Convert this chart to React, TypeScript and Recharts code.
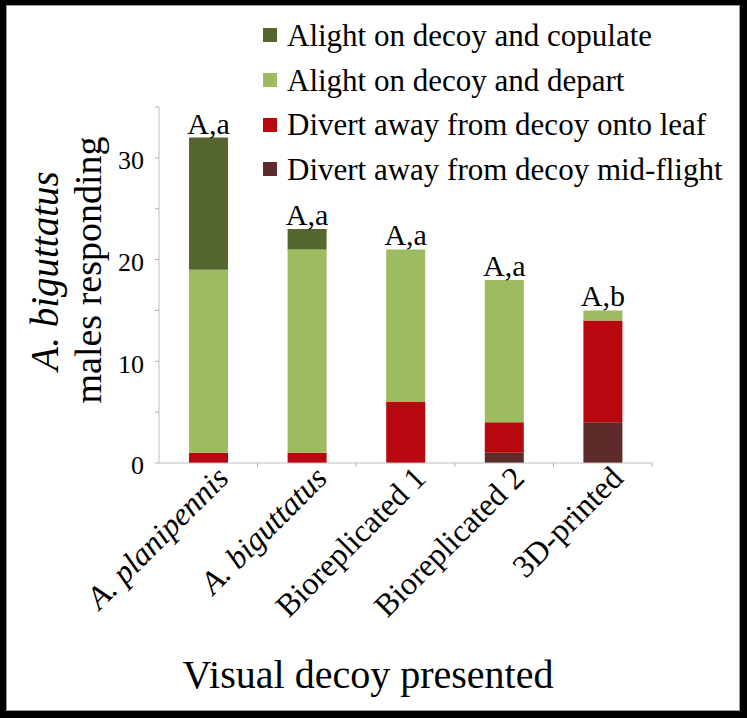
import React from 'react';
import { BarChart, Bar, XAxis, YAxis, Legend, LabelList, Label } from 'recharts';

const categories = ['A. planipennis', 'A. biguttatus', 'Bioreplicated 1', 'Bioreplicated 2', '3D-printed'];
const italicCategories = ['A. planipennis', 'A. biguttatus'];
const midFlight = [0, 0, 0, 1, 4];
const ontoLeaf = [1, 1, 6, 3, 10];
const depart = [18, 20, 15, 14, 1];
const copulate = [13, 2, 0, 0, 0];
const letters = ['A,a', 'A,a', 'A,a', 'A,a', 'A,b'];
const yTicks = [0, 5, 10, 15, 20, 25, 30, 35];
const yLabels = [0, 10, 20, 30];

// stack order, bottom to top
const series = [
    { key: 'midFlight', name: 'Divert away from decoy mid-flight', color: '#5e2a2a' },
    { key: 'ontoLeaf', name: 'Divert away from decoy onto leaf', color: '#b8070f' },
    { key: 'depart', name: 'Alight on decoy and depart', color: '#9dbb5f' },
    { key: 'copulate', name: 'Alight on decoy and copulate', color: '#55672f' },
];

const data = categories.map((name, i) => ({
    name,
    midFlight: midFlight[i],
    ontoLeaf: ontoLeaf[i],
    depart: depart[i],
    copulate: copulate[i],
    letters: letters[i],
}));

const FONT = '"Liberation Serif", "Times New Roman", serif';

const CategoryTick = (props: any) => {
    const { x, y, payload, width } = props;
    const half = payload.offset ? payload.offset : width / categories.length / 2;
    const italic = italicCategories.includes(payload.value);
    return (
        <g>
            <line x1={x + half} x2={x + half} y1={y} y2={y + 4} stroke="#b0b0b0" />
            <text
                transform={`translate(${x + 22},${y + 17}) rotate(-45)`}
                textAnchor="end"
                fontFamily={FONT}
                fontSize={32}
                fontStyle={italic ? 'italic' : 'normal'}
                fill="#000"
            >
                {payload.value}
            </text>
        </g>
    );
};

const YTitle = () => (
    <g fontFamily={FONT} fill="#000">
        <text transform="translate(58,271) rotate(-90)" textAnchor="middle" fontSize={39} fontStyle="italic">
            A. biguttatus
        </text>
        <text transform="translate(101,270) rotate(-90)" textAnchor="middle" fontSize={38}>
            males responding
        </text>
    </g>
);

const XTitle = () => (
    <text x={368} y={688} textAnchor="middle" fontFamily={FONT} fontSize={40} fill="#000">
        Visual decoy presented
    </text>
);

// only the topmost non-empty segment of a stack carries the letters
const makeTopLabel = (seriesIndex: number) => (props: any) => {
    const { x, y, width, value, index } = props;
    const row: any = data[index];
    if (!row || !row[series[seriesIndex].key]) return null;
    for (let k = seriesIndex + 1; k < series.length; k++) {
        if (row[series[k].key]) return null;
    }
    return (
        <text x={x + width / 2} y={y - 4} textAnchor="middle" fontFamily={FONT} fontSize={30} fill="#000">
            {value}
        </text>
    );
};

const LegendContent = () => {
    const items = [...series].reverse();
    return (
        <div>
            {items.map((item) => (
                <div key={item.key} style={{ height: 44.7, display: 'flex', alignItems: 'center' }}>
                    <span style={{ width: 14, height: 14, background: item.color, marginLeft: 5, marginRight: 10 }} />
                    <span style={{ fontSize: 31, fontFamily: FONT, lineHeight: 1, color: '#000', whiteSpace: 'nowrap' }}>
                        {item.name}
                    </span>
                </div>
            ))}
        </div>
    );
};

export default function App() {
    return (
        <div style={{ position: 'absolute', left: 0, top: 0, width: 747, height: 718, background: '#fff' }}>
            <div
                style={{
                    position: 'absolute',
                    inset: 0,
                    boxSizing: 'border-box',
                    borderTop: '5px solid #000',
                    borderLeft: '6px solid #000',
                    borderRight: '7px solid #000',
                    borderBottom: '7px solid #000',
                    boxShadow: 'inset 0 0 0 1px #9a9a9a',
                }}
            />
            <div style={{ position: 'absolute', left: 0, top: 0 }}>
                <BarChart
                    width={747}
                    height={718}
                    data={data}
                    barSize={39}
                    margin={{ top: 107, right: 95, left: 99, bottom: 95 }}
                >
                    <XAxis
                        dataKey="name"
                        height={160}
                        interval={0}
                        tickSize={0}
                        tickMargin={0}
                        tickLine={false}
                        axisLine={{ stroke: '#bfbfbf' }}
                        tick={<CategoryTick />}
                    >
                        <Label content={<XTitle />} />
                    </XAxis>
                    <YAxis
                        width={60}
                        domain={[0, 35]}
                        ticks={yTicks}
                        interval={0}
                        tickSize={4}
                        tickMargin={11}
                        axisLine={{ stroke: '#bfbfbf' }}
                        tickLine={{ stroke: '#b0b0b0' }}
                        tickFormatter={(v: number) => (yLabels.includes(v) ? String(v) : '')}
                        tick={{ fontFamily: FONT, fontSize: 26, fill: '#000', dy: 2 }}
                    >
                        <Label content={<YTitle />} />
                    </YAxis>
                    <Legend
                        layout="vertical"
                        align="center"
                        verticalAlign="middle"
                        content={<LegendContent />}
                        wrapperStyle={{ top: 13, left: 258, width: 480 }}
                    />
                    {series.map((s, si) => (
                        <Bar key={s.key} dataKey={s.key} name={s.name} stackId="a" fill={s.color} isAnimationActive={false}>
                            <LabelList dataKey="letters" content={makeTopLabel(si)} />
                        </Bar>
                    ))}
                </BarChart>
            </div>
        </div>
    );
}
